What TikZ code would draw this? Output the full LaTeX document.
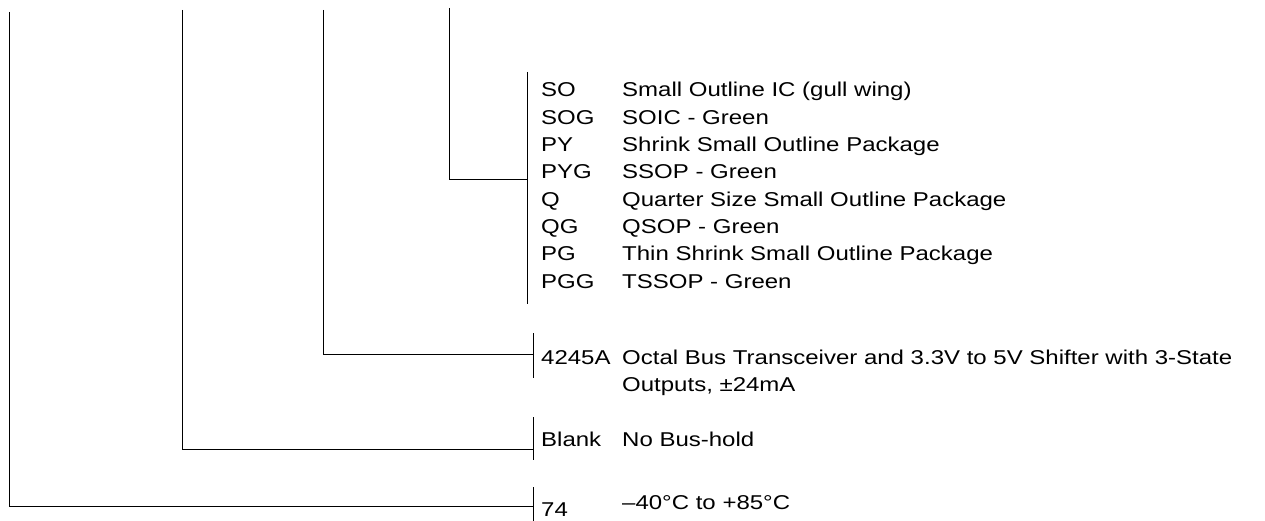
\documentclass[tikz,border=0pt]{standalone}
\usepackage{fontspec}
\setmainfont[FakeStretch=1.2]{Liberation Sans}
\begin{document}
\begin{tikzpicture}[x=1pt,y=-1pt,
  font=\fontsize{20}{27.3}\selectfont,
  code/.style={anchor=base west,inner sep=0pt},
  desc/.style={anchor=base west,inner sep=0pt},
  conn/.style={line width=1pt},
  bar/.style={line width=1pt}]
\useasboundingbox (0,0) rectangle (1265,521);
% package list
\foreach \c/\d [count=\i from 0] in {SO/Small Outline IC (gull wing),SOG/SOIC - Green,PY/Shrink Small Outline Package,PYG/SSOP - Green,Q/Quarter Size Small Outline Package,QG/QSOP - Green,PG/Thin Shrink Small Outline Package,PGG/TSSOP - Green}{
  \node[code] (pc\i) at (541,97+27.3*\i) {\c};
  \node[desc] (pd\i) at (622,97+27.3*\i) {\d};
}
\node[code] (c4245) at (541,364) {4245A};
\node[desc] (d4245a) at (622,364) {Octal Bus Transceiver and 3.3V to 5V Shifter with 3-State};
\node[desc] (d4245b) at (622,391) {Outputs, ±24mA};
\node[code] (cblank) at (541,446) {Blank};
\node[desc] (dblank) at (622,446) {No Bus-hold};
\node[code] (c74) at (541,516) {74};
\node[desc] (d74) at (622,509) {–40°C to +85°C};
% bars
\coordinate (bpT) at (527,72); \coordinate (bpB) at (527,304);
\coordinate (b1T) at (533,333); \coordinate (b1B) at (533,378);
\coordinate (b2T) at (533,417); \coordinate (b2B) at (533,460);
\coordinate (b3T) at (533,487); \coordinate (b3B) at (533,521);
\draw[bar] (bpT) -- (bpB);
\draw[bar] (b1T) -- (b1B);
\draw[bar] (b2T) -- (b2B);
\draw[bar] (b3T) -- (b3B);
% connectors
\coordinate (t1) at (9,12);   \coordinate (j1) at (533,506);
\coordinate (t2) at (182,10); \coordinate (j2) at (533,449);
\coordinate (t3) at (323,10); \coordinate (j3) at (533,354);
\coordinate (t4) at (449,8);  \coordinate (j4) at (527,180);
\draw[conn] (t1) |- (j1);
\draw[conn] (t2) |- (j2);
\draw[conn] (t3) |- (j3);
\draw[conn] (t4) |- (j4);
\end{tikzpicture}
\end{document}
